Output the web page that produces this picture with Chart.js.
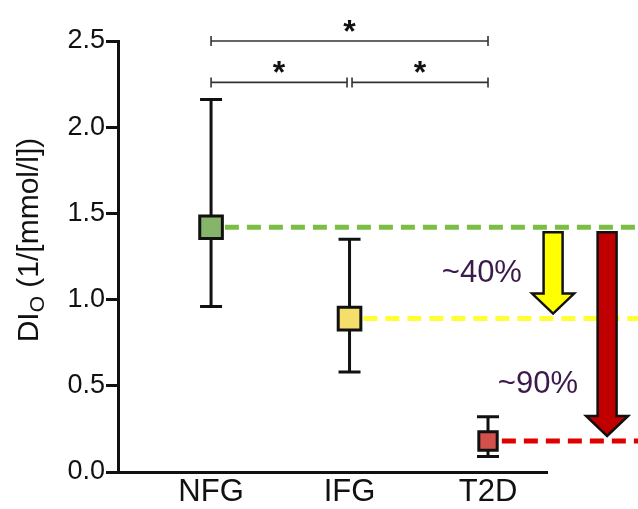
<!DOCTYPE html>
<html>
<head>
<meta charset="utf-8">
<script src="https://cdn.jsdelivr.net/npm/chart.js@4/dist/chart.umd.min.js"></script>
<style>
  html, body { margin: 0; padding: 0; background: #fff; }
</style>
</head>
<body>
<canvas id="chart" width="638" height="509"></canvas>
<script>
// data
const groups = ['NFG', 'IFG', 'T2D'];
const means = [1.42, 0.89, 0.18];
const lower = [0.96, 0.58, 0.09];
const upper = [2.16, 1.35, 0.32];
const yTicks = [0, 0.5, 1.0, 1.5, 2.0, 2.5];
const comparisons = [[0, 2], [0, 1], [1, 2]];
const comparisonLevels = [2.5, 2.26, 2.26];
const dropLabels = ['~40%', '~90%'];

const FONT = "'Liberation Sans', Arial, sans-serif";
const markerFill = ['#87b46b', '#f6de6b', '#d2514b'];
const lineColors = ['#7cbd46', '#ffff33', '#e00000'];
const markerSize = [16, 16, 13];

// dashed reference line from each mean out past the right edge
const refLines = groups.map((g, i) => ({
  type: 'scatter',
  showLine: true,
  data: [{x: i + 1.1, y: means[i]}, {x: 4.3, y: means[i]}],
  borderColor: lineColors[i],
  borderWidth: 5,
  borderDash: [14, 8],
  pointRadius: 0,
  clip: false,
  order: 2
}));

const annotations = {
  id: 'annotations',
  beforeDatasetsDraw(chart) {
    const {ctx, scales: {x, y}} = chart;
    ctx.save();
    ctx.strokeStyle = '#111';
    ctx.lineWidth = 3;
    groups.forEach((g, i) => {
      const px = x.getPixelForValue(i + 1);
      const top = y.getPixelForValue(upper[i]);
      const bot = y.getPixelForValue(lower[i]);
      ctx.beginPath();
      ctx.moveTo(px, top); ctx.lineTo(px, bot);
      ctx.moveTo(px - 11, top); ctx.lineTo(px + 11, top);
      ctx.moveTo(px - 11, bot); ctx.lineTo(px + 11, bot);
      ctx.stroke();
    });
    ctx.restore();
  },
  afterDraw(chart) {
    const {ctx, scales: {x, y}} = chart;
    ctx.save();

    // significance brackets
    ctx.strokeStyle = '#333';
    ctx.lineWidth = 1.6;
    ctx.fillStyle = '#111';
    ctx.font = 'bold 32px ' + FONT;
    ctx.textAlign = 'center';
    ctx.textBaseline = 'alphabetic';
    comparisons.forEach(([a, b], k) => {
      const x1 = x.getPixelForValue(a + 1) + (a > 0 ? 2.5 : 0);
      const x2 = x.getPixelForValue(b + 1) - (b < 2 ? 2.5 : 0);
      const py = y.getPixelForValue(comparisonLevels[k]);
      ctx.beginPath();
      ctx.moveTo(x1, py); ctx.lineTo(x2, py);
      ctx.moveTo(x1, py - 5); ctx.lineTo(x1, py + 5);
      ctx.moveTo(x2, py - 5); ctx.lineTo(x2, py + 5);
      ctx.stroke();
      ctx.fillText('*', (x1 + x2) / 2, py + 1);
    });

    // drop arrows from the NFG level
    const top = y.getPixelForValue(means[0]) + 5;
    [[1, 3.47, '#ffff00'], [2, 3.86, '#c00000']].forEach(([i, xv, col]) => {
      const cx = x.getPixelForValue(xv);
      const tip = y.getPixelForValue(means[i]) - 5;
      const hw = 9.5, hh = 21, hl = 20;
      ctx.beginPath();
      ctx.moveTo(cx - hw, top);
      ctx.lineTo(cx + hw, top);
      ctx.lineTo(cx + hw, tip - hl);
      ctx.lineTo(cx + hh, tip - hl);
      ctx.lineTo(cx, tip);
      ctx.lineTo(cx - hh, tip - hl);
      ctx.lineTo(cx - hw, tip - hl);
      ctx.closePath();
      ctx.fillStyle = col;
      ctx.fill();
      ctx.strokeStyle = '#111';
      ctx.lineWidth = 2.5;
      ctx.lineJoin = 'miter';
      ctx.stroke();
    });

    // percentage labels
    ctx.fillStyle = '#3c1a4c';
    ctx.font = '31px ' + FONT;
    ctx.textAlign = 'right';
    ctx.textBaseline = 'middle';
    ctx.fillText(dropLabels[0], x.getPixelForValue(3.245), y.getPixelForValue(1.15));
    ctx.fillText(dropLabels[1], x.getPixelForValue(3.65), y.getPixelForValue(0.505));

    // y axis title with subscript
    ctx.fillStyle = '#111';
    ctx.translate(30, 240);
    ctx.rotate(-Math.PI / 2);
    ctx.textAlign = 'left';
    ctx.textBaseline = 'middle';
    const big = '30px ' + FONT, small = '21px ' + FONT;
    ctx.font = big;
    const w1 = ctx.measureText('DI').width;
    const w3 = ctx.measureText(' (1/[mmol/l])').width;
    ctx.font = small;
    const w2 = ctx.measureText('O').width;
    let sx = -(w1 + w2 + w3) / 2;
    ctx.font = big;
    ctx.fillText('DI', sx, 0);
    ctx.font = small;
    ctx.fillText('O', sx + w1, 8);
    ctx.font = big;
    ctx.fillText(' (1/[mmol/l])', sx + w1 + w2, 0);
    ctx.restore();
  }
};

new Chart(document.getElementById('chart'), {
  type: 'scatter',
  data: {
    datasets: [
      ...refLines,
      {
        data: groups.map((g, i) => ({x: i + 1, y: means[i]})),
        pointStyle: 'rect',
        pointRadius: markerSize,
        pointBackgroundColor: markerFill,
        pointBorderColor: '#111',
        pointBorderWidth: 3,
        order: 1
      }
    ]
  },
  options: {
    responsive: false,
    animation: false,
    events: [],
    layout: { padding: { top: 41, right: 91, left: 0, bottom: 0 } },
    plugins: { legend: { display: false }, tooltip: { enabled: false } },
    scales: {
      x: {
        type: 'linear',
        min: 0.328,
        max: 3.426,
        afterBuildTicks: (s) => { s.ticks = groups.map((g, i) => ({value: i + 1})); },
        afterFit: (s) => { s.height = 37; },
        ticks: {
          callback: (v) => groups[v - 1],
          color: '#111',
          font: { family: FONT, size: 31 },
          padding: 2,
          maxRotation: 0,
          autoSkip: false
        },
        grid: { display: true, drawOnChartArea: false, drawTicks: false },
        border: { color: '#111', width: 3 }
      },
      y: {
        min: 0,
        max: 2.5,
        afterBuildTicks: (s) => { s.ticks = yTicks.map(v => ({value: v})); },
        afterFit: (s) => { s.width = 118; },
        ticks: {
          callback: (v) => v.toFixed(1),
          color: '#111',
          font: { family: FONT, size: 27 },
          padding: 1
        },
        grid: { drawOnChartArea: false, tickLength: 12, tickWidth: 3, tickColor: '#111' },
        border: { color: '#111', width: 3 }
      }
    }
  },
  plugins: [annotations]
});
</script>
</body>
</html>
